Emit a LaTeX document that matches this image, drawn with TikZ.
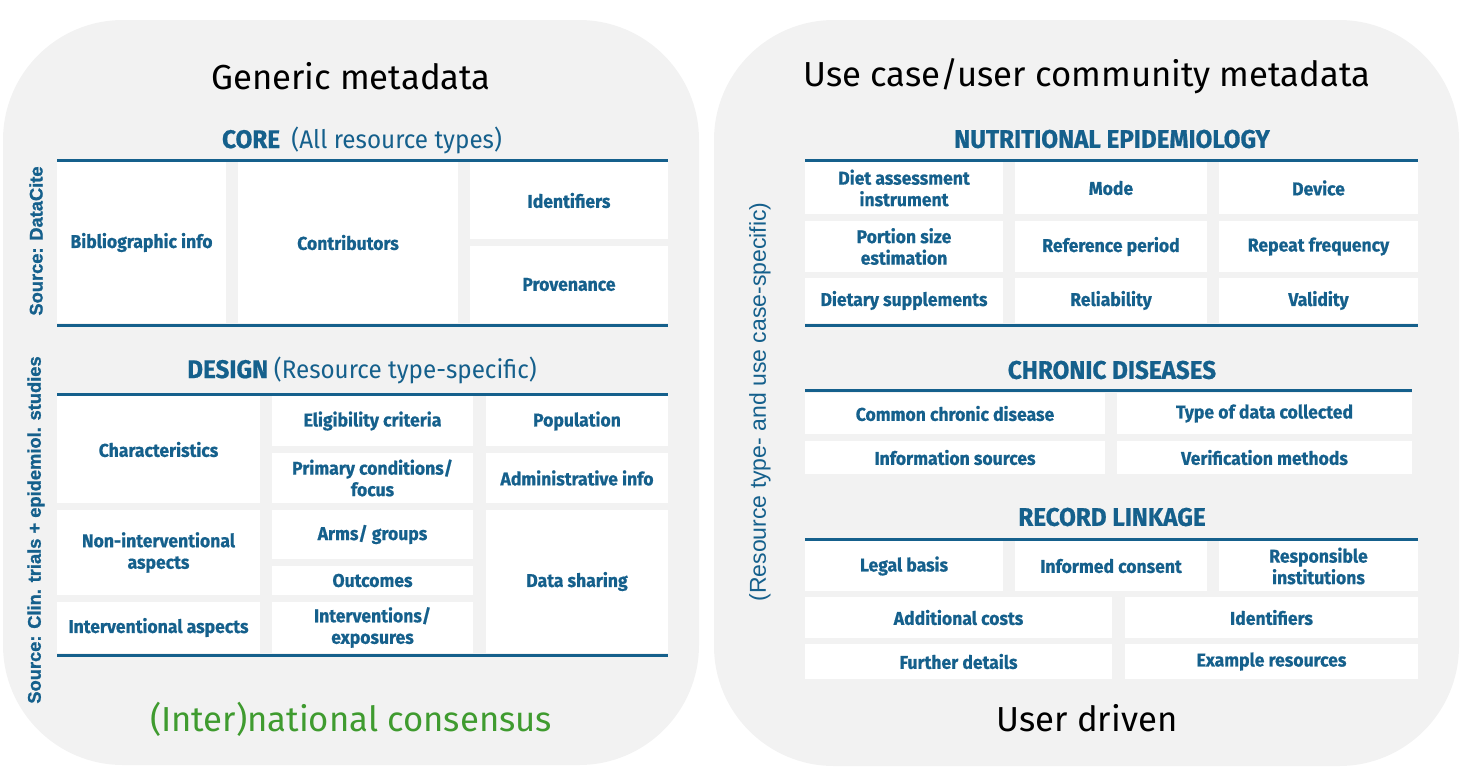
\documentclass[tikz,border=0pt]{standalone}
\usepackage{fontspec}
\setmainfont{Fira Sans}
\newfontfamily\lightfont{Fira Sans}
\newfontfamily\cellfont{Fira Sans}[FakeStretch=0.95, BoldFeatures={FakeBold=0.7}]
\newfontfamily\hdrfont{Fira Sans}[FakeStretch=0.95, BoldFeatures={FakeBold=0.7}]
\newfontfamily\arialfont{Liberation Sans}[BoldFeatures={FakeBold=1.2}]
\definecolor{fblue}{HTML}{15608C}
\definecolor{fgreen}{HTML}{3F9B2F}
\definecolor{panelgrey}{HTML}{F2F2F2}
\tikzset{
  panel/.style={fill=panelgrey, rounded corners=120pt},
  cellbox/.style={fill=white, text=fblue, align=center, inner sep=0pt, outer sep=0pt,
    font=\cellfont\bfseries\fontsize{18.5}{21.5}\selectfont},
  rule/.style={draw=fblue, line width=3pt},
  hdr/.style={text=fblue, inner sep=0pt, font=\hdrfont\bfseries\fontsize{25.5}{29}\selectfont},
  ttl/.style={inner sep=0pt, font=\lightfont\fontsize{34.7}{40}\selectfont},
  side/.style={text=fblue, inner sep=0pt, rotate=90, font=\arialfont\bfseries\fontsize{18.3}{22}\selectfont},
}
\newcommand{\mycell}[6]{%
  \node[cellbox, minimum width={(#4-#2)*1pt}, minimum height={(#5-#3)*1pt}] (#1) at ({(#2+#4)/2},{(#3+#5)/2}) {#6};}
\begin{document}
\begin{tikzpicture}[x=1pt,y=-1pt]
\useasboundingbox (0,0) rectangle (1462,766);
% panels
\path[panel] (3,20) rectangle (699,765);
\path[panel] (714,20) rectangle (1459,766);
% titles
\node[ttl] (t1) at (351,76) {Generic metadata};
\node[ttl] (t2) at (1087,76) {Use case/user community metadata};
\node[ttl, text=fgreen] (t3) at (351,719) {(Inter)national consensus};
\node[ttl] (t4) at (1087,718) {User driven};
% side labels
\node[side] (s1) at (36,241) {Source: DataCite};
\node[side] (s2) at (36,530) {Source: Clin. trials + epidemiol. studies};
\node[side, font=\arialfont\mdseries\fontsize{23}{26}\selectfont] (s3) at (760,402) {(Resource type- and use case-specific)};
% CORE
\node[hdr] (hcore) at (362,140) {CORE\ \ {\mdseries (All resource types)}};
\draw[rule] (57,160) -- (668,160);
\mycell{bib}{57}{162}{226}{323}{Bibliographic info}
\mycell{contrib}{238}{162}{458}{323}{Contributors}
\mycell{ident}{470}{162}{668}{239}{Identifiers}
\mycell{prov}{470}{246}{668}{323}{Provenance}
\draw[rule] (57,325) -- (668,325);
% DESIGN
\node[hdr] (hdesign) at (362,370) {DESIGN {\mdseries (Resource type-specific)}};
\draw[rule] (57,394) -- (668,394);
\mycell{charac}{57}{396}{260}{503}{Characteristics}
\mycell{elig}{272}{396}{473}{446}{Eligibility criteria}
\mycell{pop}{486}{396}{668}{446}{Population}
\mycell{prim}{272}{453}{473}{503}{Primary conditions/\\focus}
\mycell{admin}{486}{453}{668}{503}{Administrative info}
\mycell{nonint}{57}{510}{260}{595}{Non-interventional\\aspects}
\mycell{arms}{272}{510}{473}{559}{Arms/ groups}
\mycell{outc}{272}{566}{473}{595}{Outcomes}
\mycell{share}{486}{510}{668}{653}{Data sharing}
\mycell{interv}{57}{602}{260}{653}{Interventional aspects}
\mycell{expo}{272}{602}{473}{653}{Interventions/\\exposures}
\draw[rule] (57,655) -- (668,655);
% NUTRITIONAL EPIDEMIOLOGY
\node[hdr] (hnut) at (1112,139) {NUTRITIONAL EPIDEMIOLOGY};
\draw[rule] (805,160) -- (1418,160);
\mycell{diet}{805}{162}{1003}{214}{Diet assessment\\instrument}
\mycell{mode}{1015}{162}{1207}{214}{Mode}
\mycell{device}{1219}{162}{1418}{214}{Device}
\mycell{portion}{805}{221}{1003}{272}{Portion size\\estimation}
\mycell{refper}{1015}{221}{1207}{272}{Reference period}
\mycell{repeat}{1219}{221}{1418}{272}{Repeat frequency}
\mycell{suppl}{805}{278}{1003}{323}{Dietary supplements}
\mycell{reliab}{1015}{278}{1207}{323}{Reliability}
\mycell{valid}{1219}{278}{1418}{323}{Validity}
\draw[rule] (805,325) -- (1418,325);
% CHRONIC DISEASES
\node[hdr] (hchron) at (1112,370) {CHRONIC DISEASES};
\draw[rule] (805,390) -- (1412,390);
\mycell{common}{805}{393}{1105}{434}{Common chronic disease}
\mycell{typedata}{1117}{393}{1412}{434}{Type of data collected}
\mycell{infosrc}{805}{441}{1105}{474}{Information sources}
\mycell{verif}{1117}{441}{1412}{474}{Verification methods}
% RECORD LINKAGE
\node[hdr] (hrec) at (1112,517) {RECORD LINKAGE};
\draw[rule] (805,539) -- (1418,539);
\mycell{legal}{805}{541}{1003}{591}{Legal basis}
\mycell{consent}{1015}{541}{1207}{591}{Informed consent}
\mycell{resp}{1219}{541}{1418}{591}{Responsible\\institutions}
\mycell{costs}{805}{597}{1112}{638}{Additional costs}
\mycell{ident2}{1125}{597}{1418}{638}{Identifiers}
\mycell{further}{805}{644}{1112}{679}{Further details}
\mycell{examples}{1125}{644}{1418}{679}{Example resources}
\end{tikzpicture}
\end{document}
